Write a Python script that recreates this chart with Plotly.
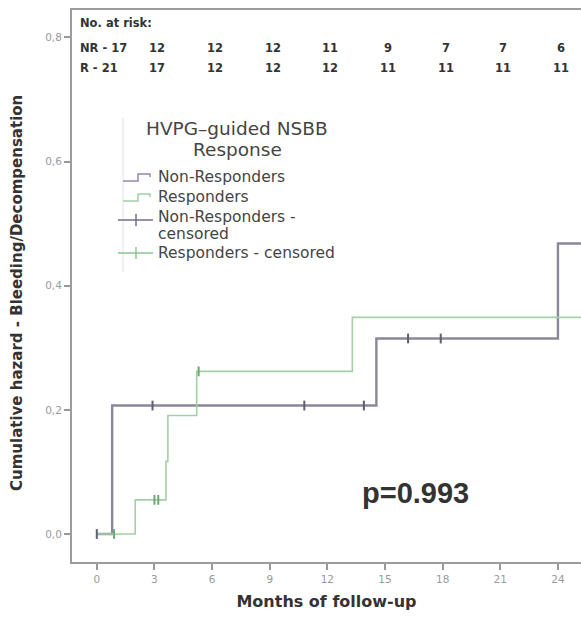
import plotly.graph_objects as go

# Cumulative hazard step curves (months, hazard)
nr_months = [0, 0.8, 14.55, 24.0, 25.6]
nr_hazard = [0, 0.207, 0.315, 0.468, 0.468]
r_months = [0, 2.0, 3.6, 3.7, 5.2, 13.3, 25.6]
r_hazard = [0, 0.055, 0.117, 0.191, 0.262, 0.349, 0.349]

# Censored observations
nr_cens_months = [0, 2.9, 10.8, 13.9, 16.2, 17.9]
nr_cens_hazard = [0, 0.207, 0.207, 0.207, 0.315, 0.315]
r_cens_months = [0.9, 3.0, 3.2, 5.3]
r_cens_hazard = [0, 0.055, 0.055, 0.262]

# Numbers at risk
risk_months = [3, 6, 9, 12, 15, 18, 21, 24]
risk_nr = [12, 12, 12, 11, 9, 7, 7, 6]
risk_r = [17, 12, 12, 12, 11, 11, 11, 11]

x_ticks = [0, 3, 6, 9, 12, 15, 18, 21, 24]
y_ticks = [0.0, 0.2, 0.4, 0.6, 0.8]
y_ticktext = ["0,0", "0,2", "0,4", "0,6", "0,8"]

NR_COLOR = "#8a8898"
R_COLOR = "#a3cfa6"
NR_LEG = "#9a86b4"
TEXT = "#333333"
LEG_TEXT = "#454545"

W, H = 581, 618
L, R, T, B = 72, 0, 10, 56


def px(xpix):
    return (xpix - L) / (W - L - R)


def py(ypix):
    return (H - B - ypix) / (H - T - B)


fig = go.Figure()
fig.add_trace(go.Scatter(x=nr_months, y=nr_hazard, mode="lines", line_shape="hv",
                         line=dict(color=NR_COLOR, width=2.4), hoverinfo="skip"))
fig.add_trace(go.Scatter(x=r_months, y=r_hazard, mode="lines", line_shape="hv",
                         line=dict(color=R_COLOR, width=1.6), hoverinfo="skip"))
fig.add_trace(go.Scatter(x=nr_cens_months, y=nr_cens_hazard, mode="markers",
                         marker=dict(symbol="line-ns-open", size=7, color="#5f5d70",
                                     line=dict(color="#5f5d70", width=2)),
                         hoverinfo="skip"))
fig.add_trace(go.Scatter(x=r_cens_months, y=r_cens_hazard, mode="markers",
                         marker=dict(symbol="line-ns-open", size=7, color="#6fa874",
                                     line=dict(color="#6fa874", width=2)),
                         hoverinfo="skip"))

ann = []


def text_at(xpix, ypix, txt, size, color=TEXT, family="DejaVu Sans", anchor="left", **kw):
    ann.append(dict(x=px(xpix), y=py(ypix), xref="paper", yref="paper", text=txt,
                    showarrow=False, xanchor=anchor, yanchor="middle",
                    font=dict(family=family, size=size, color=color), **kw))


# Risk table
text_at(78, 23, "<b>No. at risk:</b>", 11.5)
for label, row, ypix in (("NR - 17", risk_nr, 48), ("R - 21", risk_r, 68)):
    text_at(78, ypix, f"<b>{label}</b>", 11.5)
    for m, n in zip(risk_months, row):
        ann.append(dict(x=m + 0.15, y=py(ypix), xref="x", yref="paper", text=f"<b>{n}</b>",
                        showarrow=False, xanchor="center", yanchor="middle",
                        font=dict(family="DejaVu Sans", size=11.5, color=TEXT)))

# Legend block
text_at(237, 129, "HVPG\u2013guided NSBB", 18.5, LEG_TEXT, anchor="center")
text_at(237, 149, "Response", 18.5, LEG_TEXT, anchor="center")
legend_lines = [("Non-Responders", 177), ("Responders", 197), ("Non-Responders -", 217),
                ("censored", 234), ("Responders - censored", 253)]
for txt, ypix in legend_lines:
    text_at(156, ypix, txt, 15.5, LEG_TEXT)

text_at(415, 493, "<b>p=0.993</b>", 29, TEXT, family="Liberation Sans", anchor="center")

text_at(17, 293, "<b>Cumulative hazard - Bleeding/Decompensation</b>", 15, TEXT,
        anchor="center", textangle=-90)

shapes = []
# Legend frame edge
shapes.append(dict(type="line", xref="paper", yref="paper", x0=px(123), x1=px(123),
                   y0=py(118), y1=py(272), line=dict(color="#e2e2e2", width=1)))


def step_icon(ycen, color):
    pts = [(123, ycen + 4), (138, ycen + 4), (138, ycen - 3), (150, ycen - 3), (150, ycen)]
    path = "M " + " L ".join(f"{px(a)},{py(b)}" for a, b in pts)
    return dict(type="path", xref="paper", yref="paper", path=path,
                line=dict(color=color, width=1.5))


shapes.append(step_icon(177, NR_LEG))
shapes.append(step_icon(197, R_COLOR))
for ycen, color in ((220, "#6f6d90"), (253, "#8cc48f")):
    shapes.append(dict(type="line", xref="paper", yref="paper", x0=px(118), x1=px(153),
                       y0=py(ycen), y1=py(ycen), line=dict(color=color, width=1.5)))
    shapes.append(dict(type="line", xref="paper", yref="paper", x0=px(136), x1=px(136),
                       y0=py(ycen - 6), y1=py(ycen + 6), line=dict(color=color, width=1.5)))

fig.update_layout(
    width=W, height=H,
    margin=dict(l=L, r=R, t=T, b=B),
    paper_bgcolor="white", plot_bgcolor="white",
    showlegend=False,
    annotations=ann, shapes=shapes,
    xaxis=dict(range=[-1.29, 25.2], tickvals=x_ticks, ticks="outside", ticklen=6,
               tickwidth=1.5, tickcolor="#999999", showline=True, linecolor="#9c9c9c",
               linewidth=2, mirror=True, showgrid=False, zeroline=False,
               tickfont=dict(family="DejaVu Sans", size=10.5, color="#9a9a9a"),
               title=dict(text="<b>Months of follow-up</b>", standoff=12,
                          font=dict(family="DejaVu Sans", size=16, color=TEXT))),
    yaxis=dict(range=[-0.0451, 0.8443], tickvals=y_ticks, ticktext=y_ticktext,
               ticks="outside", ticklen=6, tickwidth=1.5, tickcolor="#999999",
               showline=True, linecolor="#9c9c9c", linewidth=2, showgrid=False,
               zeroline=False,
               tickfont=dict(family="DejaVu Sans", size=10.5, color="#9a9a9a")),
)

fig.write_html("out.html")
